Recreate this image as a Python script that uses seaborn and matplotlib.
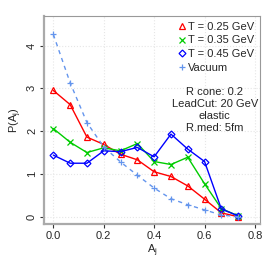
import matplotlib
matplotlib.use("Agg")
import matplotlib.pyplot as plt
import numpy as np
import seaborn as sns
import pandas as pd

# bin centres of A_j
aj = [0.0, 0.0667, 0.1333, 0.2, 0.2667, 0.3333, 0.4, 0.4667, 0.5333, 0.6, 0.6667, 0.7333]
t025 = [2.95, 2.62, 1.86, 1.69, 1.46, 1.33, 1.05, 0.94, 0.72, 0.41, 0.09, 0.0]
t035 = [2.06, 1.74, 1.50, 1.61, 1.54, 1.71, 1.29, 1.22, 1.39, 0.77, 0.19, 0.02]
t045 = [1.44, 1.25, 1.25, 1.54, 1.52, 1.62, 1.40, 1.93, 1.58, 1.29, 0.18, 0.02]
vacuum = [4.26, 3.13, 2.20, 1.63, 1.28, 0.97, 0.67, 0.42, 0.28, 0.16, 0.04, 0.0]
labels = ["T = 0.25 GeV", "T = 0.35 GeV", "T = 0.45 GeV", "Vacuum"]

sns.set_style("white")
plt.rcParams['font.family'] = ['Liberation Sans', 'DejaVu Sans']
plt.rcParams['font.size'] = 8

fig = plt.figure(figsize=(2.69, 2.63), dpi=100)
ax = fig.add_axes([44/269, 1 - 224/263, 216/269, 208/263])

df = pd.DataFrame({"aj": aj * 4,
                   "p": t025 + t035 + t045 + vacuum,
                   "set": sum([[l] * len(aj) for l in labels], [])})

styles = [
    ("red", "^", "-", dict(mfc="none")),
    ("#00cc00", "x", "-", {}),
    ("blue", "D", "-", dict(mfc="none", ms=3.5)),
    ("#6495ed", "+", (0, (3, 3)), {}),
]
for lab, (col, mk, ls, extra) in zip(labels, styles):
    kw = dict(ms=4.5, mew=0.9)
    kw.update(extra)
    sns.lineplot(data=df[df["set"] == lab], x="aj", y="p", ax=ax, color=col,
                 marker=mk, linestyle=ls, lw=1.0, label=lab, mec=col, **kw)

ax.set_xlim(-0.037, 0.82)
ax.set_ylim(-0.17, 4.69)
ax.set_xticks([0.0, 0.2, 0.4, 0.6, 0.8])
ax.set_xticklabels(["0.0", "0.2", "0.4", "0.6", "0.8"])
ax.set_yticks([0, 1, 2, 3, 4])
ax.set_yticklabels(["0", "1", "2", "3", "4"], rotation=90, va="center")
ax.grid(True, color="#e6e6e6", linestyle=":", lw=0.8)
ax.tick_params(axis="both", length=3, width=0.8, color="#333333", direction="out",
               bottom=True, left=True, pad=2)
for s in ["top", "right"]:
    ax.spines[s].set_color("#999999")
    ax.spines[s].set_linewidth(0.8)
for s in ["left", "bottom"]:
    ax.spines[s].set_color("#aaaaaa")
    ax.spines[s].set_linewidth(1.6)

ax.set_xlabel("A$_\\mathregular{j}$", labelpad=1)
ax.set_ylabel("P(A$_\\mathregular{j}$)", labelpad=2)

leg = ax.legend(loc="upper right", frameon=False, handlelength=0.6,
                handletextpad=0.3, labelspacing=0.35, borderaxespad=0.3,
                borderpad=0.2)
for h in leg.get_lines():
    h.set_linestyle("none")

ax.text(0.79, 0.548, "R cone: 0.2\nLeadCut: 20 GeV\nelastic\nR.med: 5fm",
        transform=ax.transAxes, ha="center", va="center", linespacing=1.25)

fig.savefig("out.png", dpi=100)
